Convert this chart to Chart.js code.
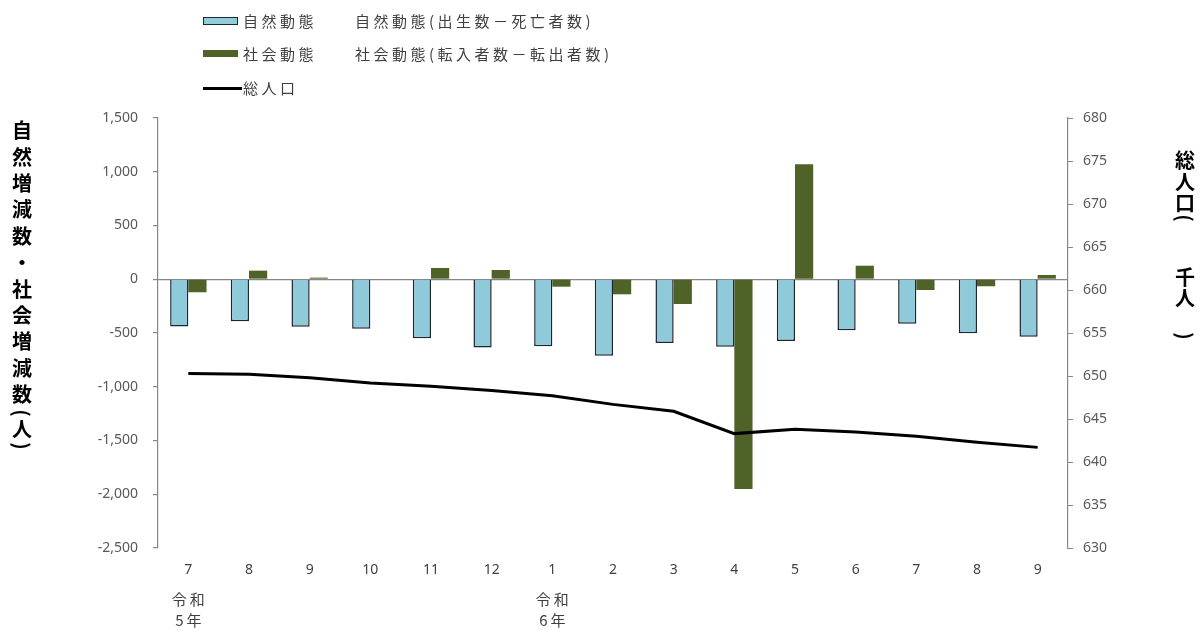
<!DOCTYPE html>
<html>
<head>
<meta charset="utf-8">
<script src="https://cdn.jsdelivr.net/npm/chart.js@4/dist/chart.umd.min.js"></script>
<style>
  html, body { margin: 0; padding: 0; background: #fff; }
  #wrap { position: relative; width: 1200px; height: 630px; font-family: "Noto Sans CJK JP", "Noto Sans", sans-serif; }
  #wrap canvas { position: absolute; left: 0; top: 0; }
  .lg { position: absolute; color: #404040; font-size: 15px; letter-spacing: 3.5px; line-height: 20px; white-space: nowrap; }
  .sw { position: absolute; box-sizing: border-box; }
  .tc { position: absolute; font-weight: bold; font-size: 20px; color: #000; width: 24px; text-align: center; line-height: 24px; height: 24px; }
</style>
</head>
<body>
<div id="wrap">
  <canvas id="c" width="1200" height="630"></canvas>
  <div class="sw" style="left:203px;top:17px;width:35px;height:8px;background:#92CDDC;border:1.5px solid #1C2530;"></div>
  <div class="lg" style="left:243px;top:11px;">自然動態</div>
  <div class="lg" style="left:355px;top:11px;">自然動態(出生数－死亡者数)</div>
  <div class="sw" style="left:203px;top:50px;width:35px;height:7px;background:#4F6228;"></div>
  <div class="lg" style="left:243px;top:44px;">社会動態</div>
  <div class="lg" style="left:355px;top:44px;">社会動態(転入者数－転出者数)</div>
  <div class="sw" style="left:203px;top:87px;width:39px;height:3px;background:#000;"></div>
  <div class="lg" style="left:243px;top:78px;">総人口</div>
  <div id="titles"></div>
</div>
<script>
// ---- data ----
const months = ['7','8','9','10','11','12','1','2','3','4','5','6','7','8','9'];
const eraLabels = [['令\u2009和','5\u2009年'],'','','','','',['令\u2009和','6\u2009年'],'','','','','','','',''];
const naturalChange = [-440,-391,-441,-460,-549,-636,-623,-711,-593,-627,-574,-475,-413,-503,-534];
const socialChange  = [-121,80,15,0,105,86,-69,-140,-230,-1950,1070,126,-100,-65,40];
const totalPopulation = [650.3,650.2,649.8,649.2,648.8,648.3,647.7,646.7,645.9,643.3,643.8,643.5,643.0,642.3,641.7];
const leftTicks = { min: -2500, max: 1500, step: 500 };
const rightTicks = { min: 630, max: 680, step: 5 };
const leftTitle = ['自','然','増','減','数','・','社','会','増','減','数','(','人',')'];
const rightTitle = ['総','人','口','(','千','人',')'];

// ---- axis titles (vertical, upright characters) ----
(function(){
  const t = document.getElementById('titles');
  const leftY = [130,157,183,209,236,262,289,315,341,368,394,413,429,446];
  const rightY = [160,182,203,218,277,298,336];
  function place(chars, ys, cx){
    chars.forEach((ch, i) => {
      const d = document.createElement('div');
      d.className = 'tc';
      d.textContent = ch;
      d.style.left = (cx - 12) + 'px';
      d.style.top = (ys[i] - 12) + 'px';
      if (ch === '(' || ch === ')') d.style.transform = 'rotate(90deg)';
      t.appendChild(d);
    });
  }
  place(leftTitle, leftY, 22);
  place(rightTitle, rightY, 1185);
})();

// ---- chart ----
const tickFont = { family: '"Noto Sans", "Noto Sans CJK JP", sans-serif', size: 14 };
const axisGray = '#868686';
new Chart(document.getElementById('c'), {
  type: 'bar',
  data: {
    labels: months,
    datasets: [
      { type: 'line', label: '総人口', data: totalPopulation, yAxisID: 'y2', xAxisID: 'x',
        borderColor: '#000', borderWidth: 3, pointRadius: 0, tension: 0, order: 0, fill: false },
      { label: '自然動態', data: naturalChange, yAxisID: 'y', xAxisID: 'x',
        backgroundColor: '#8FCADB', borderColor: '#1C2530', borderWidth: 1.5, borderSkipped: 'start',
        categoryPercentage: 0.6, barPercentage: 1.0, order: 1 },
      { label: '社会動態', data: socialChange, yAxisID: 'y', xAxisID: 'x',
        backgroundColor: '#4F6228', borderWidth: 0,
        categoryPercentage: 0.6, barPercentage: 1.0, order: 1 }
    ]
  },
  options: {
    responsive: false,
    animation: false,
    devicePixelRatio: 1,
    layout: { padding: { top: 118, left: 0, right: 0, bottom: 0 } },
    plugins: { legend: { display: false }, tooltip: { enabled: false } },
    scales: {
      x: {
        type: 'category', position: 'bottom', offset: true, weight: 0,
        grid: { display: false, drawTicks: false },
        border: { display: false },
        ticks: { color: '#404040', font: tickFont, padding: 14, maxRotation: 0, autoSkip: false },
        afterFit: s => { s.height = 31; }
      },
      x2: {
        type: 'category', position: 'bottom', offset: true, weight: 1,
        labels: eraLabels,
        grid: { display: false, drawTicks: false },
        border: { display: false },
        ticks: { color: '#404040', font: { family: '"Noto Sans CJK JP", sans-serif', size: 15, lineHeight: 1.45 },
                 padding: 9, maxRotation: 0, autoSkip: false },
        afterFit: s => { s.height = 51; }
      },
      y: {
        position: 'left', min: leftTicks.min, max: leftTicks.max,
        ticks: { stepSize: leftTicks.step, color: '#595959', font: tickFont, padding: 15 },
        grid: {
          drawOnChartArea: true, tickLength: 5, tickColor: axisGray,
          color: ctx => (ctx.tick && ctx.tick.value === 0) ? axisGray : 'rgba(0,0,0,0)',
          lineWidth: 1.2
        },
        border: { display: true, color: axisGray, width: 1.2 },
        afterFit: s => { s.width = 158; }
      },
      y2: {
        position: 'right', min: rightTicks.min, max: rightTicks.max,
        ticks: { stepSize: rightTicks.step, color: '#595959', font: tickFont, padding: 10 },
        grid: { drawOnChartArea: false, tickLength: 5, color: axisGray },
        border: { display: true, color: axisGray, width: 1.2 },
        afterFit: s => { s.width = 132; }
      }
    }
  }
});
</script>
</body>
</html>
